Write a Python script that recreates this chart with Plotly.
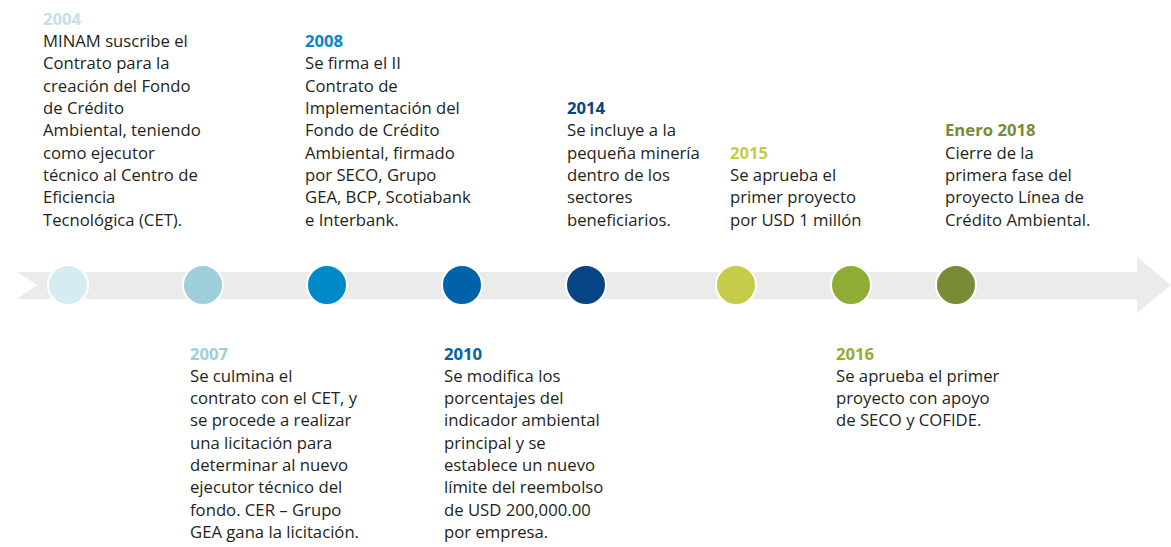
import plotly.graph_objects as go

# ---- data ----
years = ["2004", "2007", "2008", "2010", "2014", "2015", "2016", "Enero 2018"]
colors = ["#d6ecf3", "#9ecfda", "#0089c8", "#0062ab", "#074584", "#c6cc4a", "#8fad35", "#788c36"]
year_colors = ["#c4dfe8", "#9ecfda", "#0089c8", "#0062ab", "#074584", "#c6cc4a", "#8fad35", "#788c36"]
sides = ["top", "bottom", "top", "bottom", "top", "top", "bottom", "top"]
texts = [
    ["MINAM suscribe el", "Contrato para la", "creación del Fondo", "de Crédito",
     "Ambiental, teniendo", "como ejecutor", "técnico al Centro de", "Eficiencia",
     "Tecnológica (CET)."],
    ["Se culmina el", "contrato con el CET, y", "se procede a realizar", "una licitación para",
     "determinar al nuevo", "ejecutor técnico del", "fondo. CER – Grupo", "GEA gana la licitación."],
    ["Se firma el II", "Contrato de", "Implementación del", "Fondo de Crédito",
     "Ambiental, firmado", "por SECO, Grupo", "GEA, BCP, Scotiabank", "e Interbank."],
    ["Se modifica los", "porcentajes del", "indicador ambiental", "principal y se",
     "establece un nuevo", "límite del reembolso", "de USD 200,000.00", "por empresa."],
    ["Se incluye a la", "pequeña minería", "dentro de los", "sectores", "beneficiarios."],
    ["Se aprueba el", "primer proyecto", "por USD 1 millón"],
    ["Se aprueba el primer", "proyecto con apoyo", "de SECO y COFIDE."],
    ["Cierre de la", "primera fase del", "proyecto Línea de", "Crédito Ambiental."],
]

# ---- layout (pixel-based) ----
W, H = 1171, 547
circle_x = [68, 203, 327, 462, 586, 736, 851, 956]
text_x = [41, 188, 303, 442, 565, 728, 834, 943]
line_y = 285
line_h = 22.3
top_last_line = 219
bottom_year = 353
FONT = "Open Sans"
FS = 16.7
text_color = "#231f20"

fig = go.Figure()

# Arrow band
band_top, band_bot = 272, 299
fig.add_shape(type="path",
              path=(f"M 17 {band_top} L 1137 {band_top} L 1137 257 L 1171 {line_y} "
                    f"L 1137 313 L 1137 {band_bot} L 17 {band_bot} L 37 {line_y} Z"),
              fillcolor="#ebebeb", line=dict(width=0), layer="below")

fig.add_trace(go.Scatter(
    x=circle_x, y=[line_y] * len(circle_x), mode="markers",
    marker=dict(size=40, color=colors, line=dict(color="white", width=2)),
    hoverinfo="skip", showlegend=False))

annotations = []
for yr, yc, side, lines, tx in zip(years, year_colors, sides, texts, text_x):
    n = len(lines)
    if side == "top":
        y0 = top_last_line - n * line_h
    else:
        y0 = bottom_year
    annotations.append(dict(x=tx, y=y0, text=f"<b>{yr}</b>", xref="x", yref="y",
                            xanchor="left", yanchor="middle", showarrow=False,
                            font=dict(family=FONT, size=FS, color=yc)))
    for i, ln in enumerate(lines):
        annotations.append(dict(x=tx, y=y0 + (i + 1) * line_h, text=ln, xref="x", yref="y",
                                xanchor="left", yanchor="middle", showarrow=False,
                                font=dict(family=FONT, size=FS, color=text_color)))

fig.update_layout(
    width=W, height=H, margin=dict(l=0, r=0, t=0, b=0),
    paper_bgcolor="white", plot_bgcolor="white",
    xaxis=dict(range=[0, W], visible=False, fixedrange=True),
    yaxis=dict(range=[H, 0], visible=False, fixedrange=True),
    annotations=annotations,
)
fig.write_html("out.html", config={"displayModeBar": False},
               post_script="document.body.style.margin='0';document.body.style.overflow='hidden';")
